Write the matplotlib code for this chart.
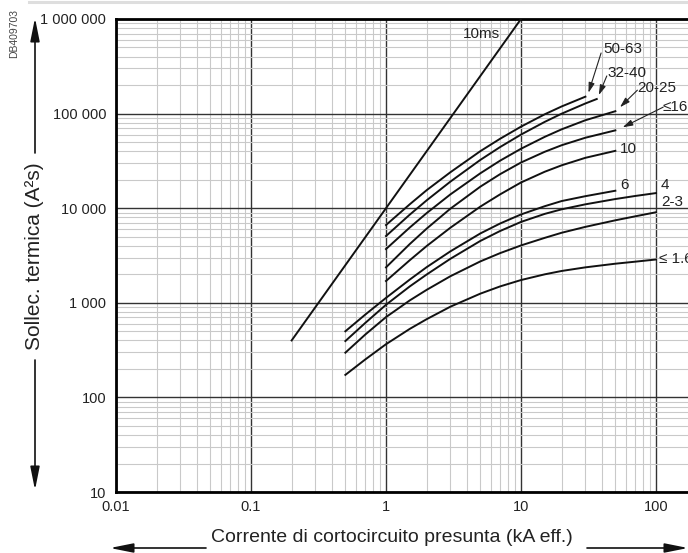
import numpy as np
import matplotlib
matplotlib.use('Agg')
import matplotlib.pyplot as plt
from matplotlib.lines import Line2D
from matplotlib.ticker import LogLocator, FixedLocator, FuncFormatter, NullFormatter

plt.rcParams['font.family'] = ['Liberation Sans', 'DejaVu Sans']

# ---- data (I in kA, I²t in A²s) ----
i_10ms = [0.2, 10]
e_10ms = [400, 1000000]

i_50_63 = [1, 1.5, 2, 3, 5, 7, 10, 15, 20, 30]
e_50_63 = [6640, 11000, 15500, 24000, 40100, 54200, 72800, 98400, 119000, 151000]

i_32_40 = [1, 1.5, 2, 3, 5, 7, 10, 15, 20, 30, 36.4]
e_32_40 = [5080, 8550, 12100, 19100, 32400, 44300, 60000, 81800, 99800, 128000, 142600]

i_20_25 = [1, 1.5, 2, 3, 5, 7, 10, 15, 20, 30, 50]
e_20_25 = [3700, 6250, 8870, 14000, 23400, 31800, 42500, 56800, 68200, 85100, 106000]

i_le16 = [1, 1.5, 2, 3, 5, 7, 10, 15, 20, 30, 50]
e_le16 = [2370, 4180, 6080, 9890, 16900, 22900, 30400, 39500, 46300, 55600, 66500]

i_10 = [1, 1.5, 2, 3, 5, 7, 10, 15, 20, 30, 50]
e_10 = [1700, 2820, 3980, 6220, 10400, 14000, 18700, 24300, 28400, 34100, 40400]

i_6 = [0.5, 0.7, 1, 1.5, 2, 3, 5, 7, 10, 15, 20, 30, 50]
e_6 = [500, 748, 1127, 1760, 2380, 3500, 5410, 6890, 8590, 10500, 11900, 13400, 15300]

i_4 = [0.5, 0.7, 1, 1.5, 2, 3, 5, 7, 10, 15, 20, 30, 50, 70, 100]
e_4 = [394, 610, 953, 1490, 1990, 2920, 4510, 5740, 7160, 8710, 9730, 10990, 12500, 13460, 14450]

i_2_3 = [0.5, 0.7, 1, 1.5, 2, 3, 5, 7, 10, 15, 20, 30, 50, 70, 100]
e_2_3 = [297, 460, 706, 1060, 1370, 1910, 2740, 3350, 4040, 4860, 5500, 6350, 7450, 8200, 9060]

i_le1_6 = [0.5, 0.7, 1, 1.5, 2, 3, 5, 7, 10, 15, 20, 30, 50, 70, 100]
e_le1_6 = [173, 251, 365, 530, 671, 910, 1250, 1490, 1740, 2000, 2170, 2370, 2590, 2720, 2870]

curves = [(i_10ms, e_10ms), (i_50_63, e_50_63), (i_32_40, e_32_40),
          (i_20_25, e_20_25), (i_le16, e_le16), (i_10, e_10),
          (i_6, e_6), (i_4, e_4), (i_2_3, e_2_3), (i_le1_6, e_le1_6)]

x_ticks = [0.01, 0.1, 1, 10, 100, 1000]
x_tick_labels = ['0.01', '0.1', '1', '10', '100', '']
y_ticks = [10, 100, 1000, 10000, 100000, 1000000]
y_tick_labels = ['10', '100', '1 000', '10 000', '100 000', '1 000 000']

W, H = 688, 553


def fx(px):
    return px / W


def fy(py):
    return 1 - py / H


fig = plt.figure(figsize=(W / 100, H / 100), dpi=100)
ax = fig.add_axes([fx(116), fy(492), 675 / W, 473 / H])

ax.set_xscale('log')
ax.set_yscale('log')
ax.set_xlim(0.01, 1000)
ax.set_ylim(10, 1000000)

for xs, ys in curves:
    ax.plot(xs, ys, color='#111111', lw=1.4, solid_joinstyle='round', zorder=3)

# grid
ax.xaxis.set_major_locator(FixedLocator(x_ticks))
ax.yaxis.set_major_locator(FixedLocator(y_ticks))
ax.xaxis.set_minor_locator(LogLocator(base=10, subs=np.arange(2, 10), numticks=20))
ax.yaxis.set_minor_locator(LogLocator(base=10, subs=np.arange(2, 10), numticks=20))
ax.xaxis.set_major_formatter(FuncFormatter(lambda v, p: x_tick_labels[x_ticks.index(v)] if v in x_ticks else ''))
ax.yaxis.set_major_formatter(FuncFormatter(lambda v, p: y_tick_labels[y_ticks.index(v)] if v in y_ticks else ''))
ax.xaxis.set_minor_formatter(NullFormatter())
ax.yaxis.set_minor_formatter(NullFormatter())
ax.set_axisbelow(True)
ax.grid(which='minor', color='#c9c9c9', lw=0.8)
ax.grid(which='major', color='#333333', lw=1.0)
ax.tick_params(which='both', length=0)
ax.tick_params(axis='x', pad=6, labelsize=10.5, labelcolor='#222222')
ax.tick_params(axis='y', pad=7, labelsize=10.5, labelcolor='#222222')

for side in ['top', 'left', 'bottom', 'right']:
    ax.spines[side].set_linewidth(2.0)
    ax.spines[side].set_color('black')

# curve labels
txt = dict(fontsize=11, color='#222222', va='center', zorder=5)
ax.text(7.0, 690000, '10ms', ha='right', **txt)
ax.text(54, 41800, '10', ha='left', **txt)
ax.text(54, 17400, '6', ha='left', **txt)
ax.text(109, 17400, '4', ha='left', **txt)
ax.text(109, 11500, '2-3', ha='left', **txt)
ax.text(105, 2900, '≤ 1.6', ha='left', **txt)

arrow_labels = [
    ('50-63', (40.4, 482000), (39.2, 437000), (31.6, 166000)),
    ('32-40', (43.4, 268000), (43.2, 250000), (37.7, 157000)),
    ('20-25', (72.3, 186000), (72.8, 177000), (54.1, 116800)),
    ('≤16', (112.7, 117500), (113, 117000), (56.6, 71600)),
]
for label, tpos, start, end in arrow_labels:
    ax.text(tpos[0], tpos[1], label, ha='left', **txt)
    ax.annotate('', xy=end, xytext=start,
                arrowprops=dict(arrowstyle='-|>,head_length=0.6,head_width=0.18',
                                color='#222222', lw=0.8, shrinkA=0, shrinkB=0))

# axis titles with arrows
arrow_kw = dict(arrowstyle='-|>,head_length=1.4,head_width=0.28', color='#111111',
                lw=1.2, shrinkA=0, shrinkB=0)
fig.text(fx(35), fy(256), 'Sollec. termica (A²s)', rotation=90, ha='center', va='center',
         fontsize=15, color='#222222')
ax.annotate('', xy=(fx(35), fy(18)), xytext=(fx(35), fy(153)), xycoords='figure fraction',
            textcoords='figure fraction', arrowprops=arrow_kw, annotation_clip=False)
ax.annotate('', xy=(fx(35), fy(490)), xytext=(fx(35), fy(360)), xycoords='figure fraction',
            textcoords='figure fraction', arrowprops=arrow_kw, annotation_clip=False)

fig.text(fx(392), fy(538), 'Corrente di cortocircuito presunta (kA eff.)', ha='center',
         va='center', fontsize=14, color='#222222')
ax.annotate('', xy=(fx(110), fy(548)), xytext=(fx(206), fy(548)), xycoords='figure fraction',
            textcoords='figure fraction', arrowprops=arrow_kw, annotation_clip=False)
ax.annotate('', xy=(fx(688), fy(548)), xytext=(fx(587), fy(548)), xycoords='figure fraction',
            textcoords='figure fraction', arrowprops=arrow_kw, annotation_clip=False)

fig.text(fx(14), fy(34), 'DB409703', rotation=90, ha='center', va='center',
         fontsize=7.5, color='#444444')
fig.add_artist(Line2D([fx(29), 1], [fy(1.5), fy(1.5)], color='#dedede', lw=2.2))

fig.savefig('out.png', dpi=100)
